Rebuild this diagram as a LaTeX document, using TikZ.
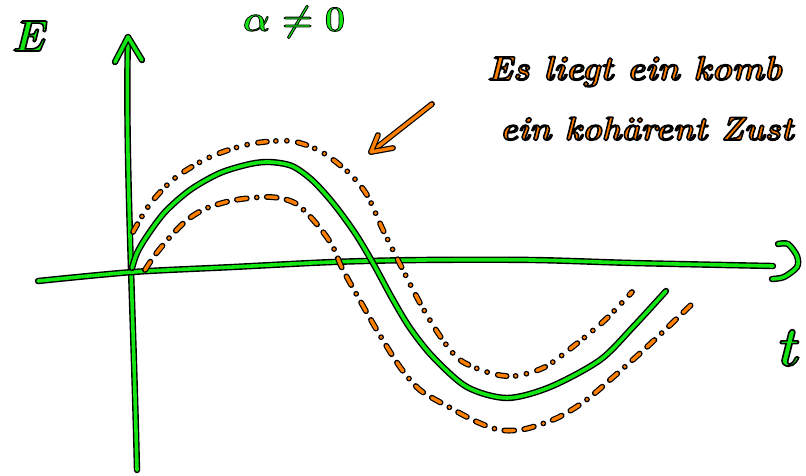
\RequirePackage{fix-cm}
\documentclass[tikz,border=0pt]{standalone}
\usepackage{fontspec}
\definecolor{penGreen}{RGB}{20,230,20}
\definecolor{penOrange}{RGB}{255,128,0}
% outlined pen text: fill with current colour, stroke in black
\newcommand{\penink}[2][1.6]{\special{pdf:code 2 Tr #1 w 0 G}#2\special{pdf:code 0 Tr}}
\begin{document}
\begin{tikzpicture}[x=1pt, y=-1pt,
    greenpen/.style={draw=black, line width=1.4pt, double=penGreen,
                     double distance=3.6pt, line cap=round, line join=round},
    orangepen/.style={draw=black, line width=1.2pt, double=penOrange,
                      double distance=3.4pt, line cap=round, line join=round},
    dotcurve/.style={orangepen,
                     dash pattern=on 9pt off 9pt on 0pt off 11pt on 0pt off 11pt},
    dashcurve/.style={orangepen,
                      dash pattern=on 10pt off 10pt on 10pt off 10pt on 0pt off 10pt},
    greenlabel/.style={text=penGreen, inner sep=0pt},
    orangelabel/.style={text=penOrange, inner sep=0pt, anchor=base west,
                        font=\fontsize{34}{38}\selectfont\bfseries\itshape}]
  \useasboundingbox (0,0) rectangle (806,475);

  % axes
  \coordinate (ybot)  at (137,470);
  \coordinate (ytop)  at (128,37);
  \coordinate (yhl)   at (115,62);
  \coordinate (yhr)   at (142,60);
  \coordinate (xleft) at (38,281);
  \coordinate (xend)  at (773,266);
  \draw[greenpen] (ybot) .. controls (133,300) and (125,150) .. (ytop);
  \draw[greenpen] (yhl) -- (ytop) -- (yhr);
  \draw[greenpen] plot[smooth, tension=0.5] coordinates {(xleft) (133,272)
      (233,267) (333,262) (420,260) (533,260) (633,263) (xend)};
  \draw[greenpen] plot[smooth] coordinates {(778,244) (788,244) (797,256)
      (797,267) (784,277) (772,279)};

  % shifted copies
  \draw[dotcurve] plot[smooth] coordinates {(133,232) (150,204) (175,178)
      (210,157) (250,144) (290,141) (320,151) (348,172) (367,195)
      (383,230) (402,268) (420,303) (440,336) (460,360) (490,373)
      (515,376) (545,367) (575,345) (605,320) (632,292)};
  \draw[dashcurve] plot[smooth] coordinates {(145,270) (155,255) (170,237)
      (187,220) (207,208) (235,200) (270,197) (295,203) (315,222)
      (332,245) (342,268) (358,297) (378,332) (400,367) (420,390)
      (447,406) (475,421) (500,430) (525,429) (557,418) (585,401)
      (611,379) (648,346) (693,303)};

  % wave
  \draw[greenpen] plot[smooth] coordinates {(132,268) (137,253) (147,236)
      (165,212) (190,190) (220,173) (250,164) (270,162) (292,166)
      (312,180) (333,203) (355,233) (373,263) (392,298) (410,328)
      (433,357) (467,387) (507,398) (550,387) (600,360) (633,327)
      (666,291)};

  % pointer
  \coordinate (ptail) at (432,104);
  \coordinate (ptip)  at (371,152);
  \draw[orangepen] (ptail) -- (ptip);
  \draw[orangepen] (378,135) -- (ptip) -- (393,148);

  % labels
  \node (lblE)  [greenlabel, font=\fontsize{44}{48}\selectfont\bfseries\itshape]
                at (28,36) {\penink{E}};
  \node (lblA)  [greenlabel, font=\fontsize{36}{40}\selectfont\boldmath]
                at (294,22) {\penink[0.8]{$\alpha\neq0$}};
  \node (lblT)  [greenlabel, font=\fontsize{56}{60}\selectfont\bfseries\itshape]
                at (786,348) {\penink{t}};
  \node (note1) [orangelabel] at (487,80) {\penink{Es liegt ein komb}};
  \node (note2) [orangelabel, font=\fontsize{33}{37}\selectfont\bfseries\itshape]
                at (500,140) {\penink{ein kohärent Zust}};
\end{tikzpicture}
\end{document}
